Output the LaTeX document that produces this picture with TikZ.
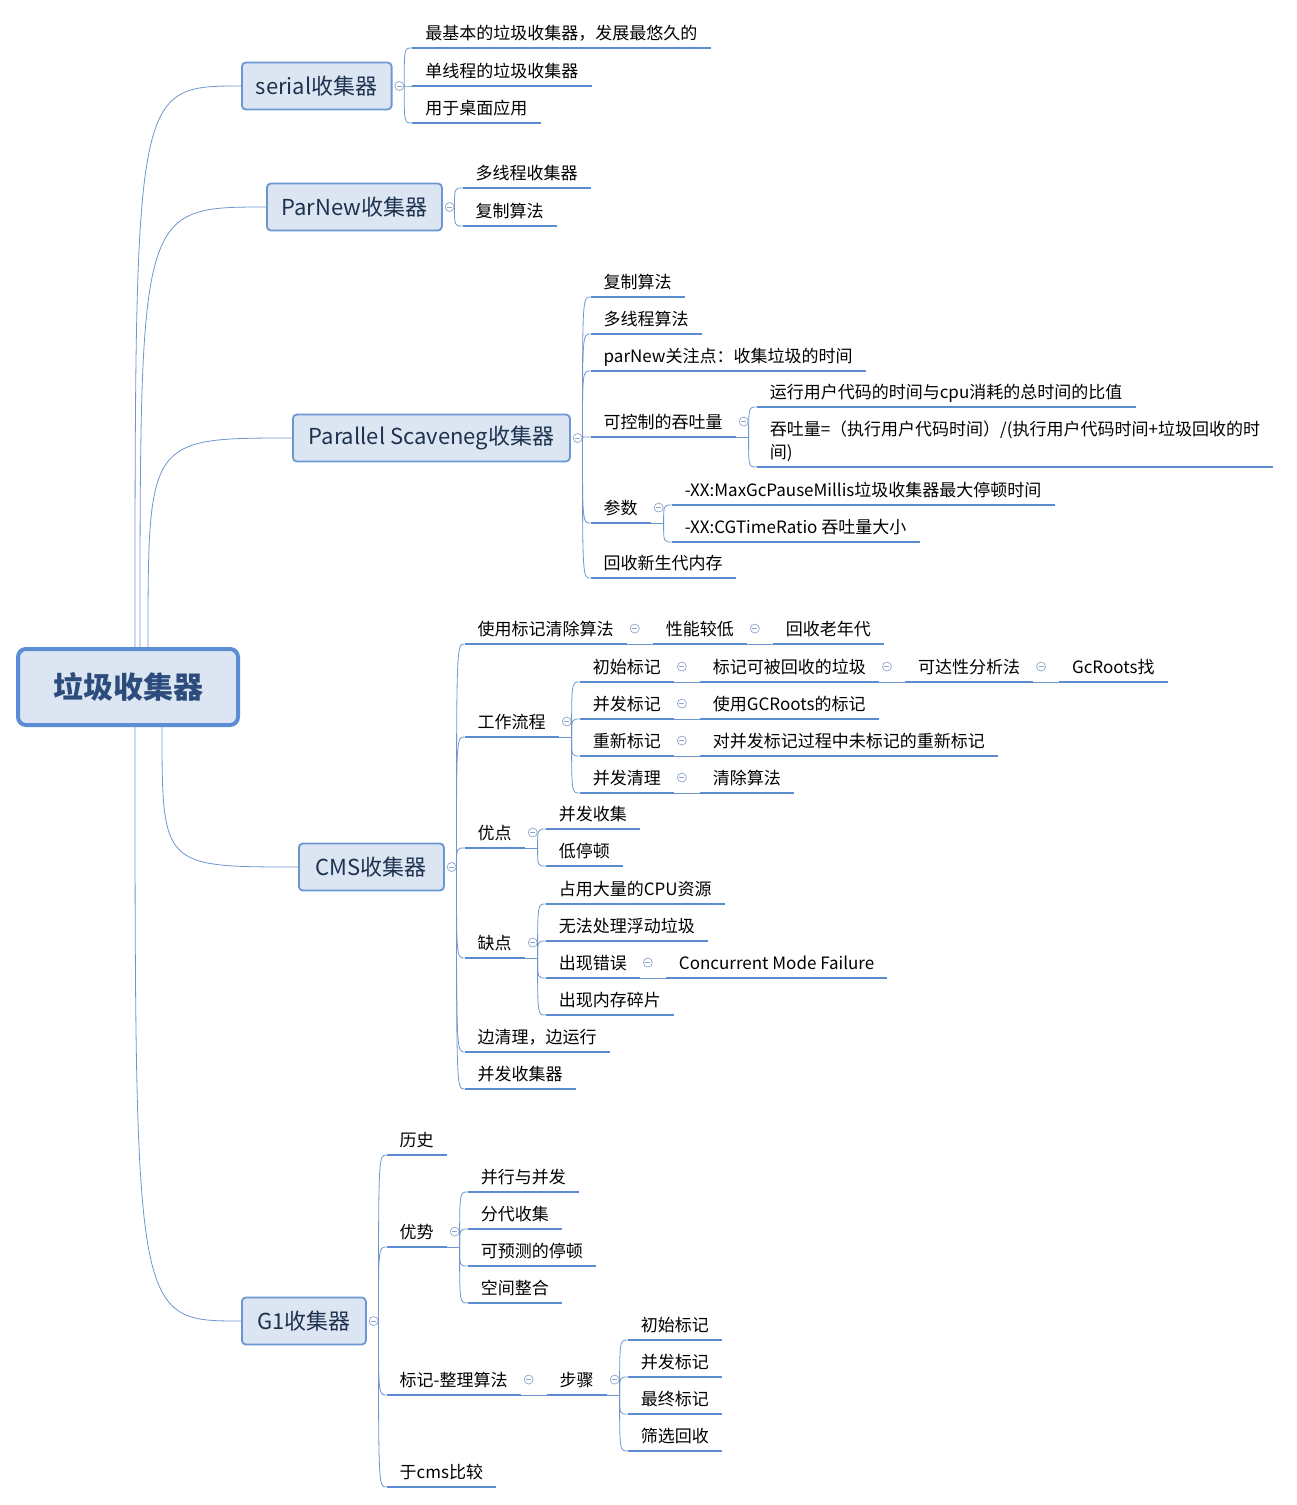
\documentclass[tikz,border=0pt]{standalone}
\usepackage{fontspec}
\setmainfont{Noto Sans CJK SC}
\usetikzlibrary{positioning}

\definecolor{linec}{HTML}{6F96CE}
\definecolor{ulinec}{HTML}{5B8BD0}
\definecolor{boxc}{HTML}{6A96D2}
\definecolor{rootc}{HTML}{5A8DD4}
\definecolor{boxf}{HTML}{DCE6F2}
\definecolor{boxt}{HTML}{1E3250}
\definecolor{roott}{HTML}{2C4C7C}
\definecolor{foldc}{HTML}{8DA5CB}

% fold mark after a topic, the point its branches leave from, and where subtopics start
\newcommand\foldat[2]{%
  \node[fold,right=3pt of #1] (f#1) {};
  \coordinate (b#1) at (f#1.east |- #1.south);
  \coordinate (x#1) at ([xshift=#2]b#1);
  \draw[link] (#1.south east) -- (b#1);}

\begin{document}
\begin{tikzpicture}[x=1pt,y=-1pt,
	every node/.style={font=\fontsize{17}{23}\selectfont},
	link/.style={draw=linec,line width=0.8pt},
	uline/.style={draw=ulinec,line width=2.8pt},
	leaf/.style={anchor=south west,inner xsep=13pt,inner ysep=0pt,text height=22pt,text depth=8.5pt,
		append after command={(\tikzlastnode.south west) edge[uline] (\tikzlastnode.south east)}},
	sub/.style={draw=boxc,fill=boxf,line width=1.8pt,rounded corners=4pt,text=boxt,
		font=\fontsize{22}{26}\selectfont,minimum height=47pt,inner xsep=14pt},
	root/.style={sub,draw=rootc,line width=4pt,rounded corners=8pt,minimum width=220pt,minimum height=76pt,
		text=roott,font=\bfseries\fontsize{30}{34}\selectfont},
	fold/.style={circle,draw=foldc,fill=white,line width=0.7pt,inner sep=0pt,minimum size=9pt,
		path picture={\draw[foldc,line width=0.7pt] ([xshift=2pt]path picture bounding box.west) -- ([xshift=-2pt]path picture bounding box.east);}}]
	\useasboundingbox (0,0) rectangle (1297,1505);

	\node[root] (root) at (128,687) {垃圾收集器};
	\node[sub,anchor=west,minimum width=149pt] (serial) at (241,86) {serial收集器};
	\node[sub,anchor=west,minimum width=175pt] (parnew) at (266,207) {ParNew收集器};
	\node[sub,anchor=west,minimum width=277pt] (parallel) at (292,438) {Parallel Scaveneg收集器};
	\node[sub,anchor=west,minimum width=145pt] (cms) at (298,867) {CMS收集器};
	\node[sub,anchor=west,minimum width=124pt] (gone) at (241,1321) {G1收集器};

	\foreach \s/\dx/\t in {north/7/serial,north/12/parnew,north/20/parallel,south/34/cms,south/7/gone}{
		\coordinate (r\t) at ([xshift=\dx pt]root.\s);
		\draw[link] (r\t) .. controls (r\t |- \t.west) .. (\t.west);
	}
	\foreach \p in {serial,parnew,parallel,cms,gone}{
		\node[fold,right=2pt of \p] (f\p) {};
		\coordinate (b\p) at (f\p.east);
		\coordinate (x\p) at ([xshift=8pt]b\p);
	}

	% serial / parnew
	\foreach \n/\y/\t in {sa/48/{最基本的垃圾收集器，发展最悠久的},sb/86/{单线程的垃圾收集器},sc/123/{用于桌面应用}}{
		\node[leaf] (\n) at (xserial |- 0,\y) {\t};
		\draw[link] (bserial) .. controls (bserial |- \n.south west) .. (\n.south west);
	}
	\foreach \n/\y/\t in {na/188/{多线程收集器},nb/226/{复制算法}}{
		\node[leaf] (\n) at (xparnew |- 0,\y) {\t};
		\draw[link] (bparnew) .. controls (bparnew |- \n.south west) .. (\n.south west);
	}

	% parallel scavenge
	\foreach \n/\y/\t in {pa/297/{复制算法},pb/334/{多线程算法},pc/371/{parNew关注点：收集垃圾的时间},ctrl/437/{可控制的吞吐量},param/523/{参数},pd/578/{回收新生代内存}}{
		\node[leaf] (\n) at (xparallel |- 0,\y) {\t};
		\draw[link] (bparallel) .. controls (bparallel |- \n.south west) .. (\n.south west);
	}
	\foldat{ctrl}{8pt}
	\node[leaf] (ctrla) at (xctrl |- 0,407) {运行用户代码的时间与cpu消耗的总时间的比值};
	\node[leaf] (ctrlb) at (xctrl |- 0,467) {\begin{tabular}[b]{@{}l@{}}吞吐量=（执行用户代码时间）/(执行用户代码时间+垃圾回收的时\\间)\end{tabular}};
	\foreach \n in {ctrla,ctrlb}
		\draw[link] (bctrl) .. controls (bctrl |- \n.south west) .. (\n.south west);
	\foldat{param}{8pt}
	\foreach \n/\y/\t in {parama/505/{-XX:MaxGcPauseMillis垃圾收集器最大停顿时间},paramb/542/{-XX:CGTimeRatio 吞吐量大小}}{
		\node[leaf] (\n) at (xparam |- 0,\y) {\t};
		\draw[link] (bparam) .. controls (bparam |- \n.south west) .. (\n.south west);
	}

	% cms
	\foreach \n/\y/\t in {mark/644/{使用标记清除算法},flow/737/{工作流程},pro/848/{优点},con/958/{缺点},cmsa/1052/{边清理，边运行},cmsb/1089/{并发收集器}}{
		\node[leaf] (\n) at (xcms |- 0,\y) {\t};
		\draw[link] (bcms) .. controls (bcms |- \n.south west) .. (\n.south west);
	}
	\foldat{flow}{8pt}
	\foreach \n/\y/\t in {init/682/{初始标记},conc/719/{并发标记},remark/756/{重新标记},clean/793/{并发清理}}{
		\node[leaf] (\n) at (xflow |- 0,\y) {\t};
		\draw[link] (bflow) .. controls (bflow |- \n.south west) .. (\n.south west);
	}
	\foldat{pro}{8pt}
	\foreach \n/\y/\t in {proa/829/{并发收集},prob/866/{低停顿}}{
		\node[leaf] (\n) at (xpro |- 0,\y) {\t};
		\draw[link] (bpro) .. controls (bpro |- \n.south west) .. (\n.south west);
	}
	\foldat{con}{8pt}
	\foreach \n/\y/\t in {cpu/904/{占用大量的CPU资源},floatg/941/{无法处理浮动垃圾},err/978/{出现错误},frag/1015/{出现内存碎片}}{
		\node[leaf] (\n) at (xcon |- 0,\y) {\t};
		\draw[link] (bcon) .. controls (bcon |- \n.south west) .. (\n.south west);
	}

	% g1
	\foreach \n/\y/\t in {hist/1155/{历史},adv/1247/{优势},gmark/1395/{标记-整理算法},cmp/1487/{于cms比较}}{
		\node[leaf] (\n) at (xgone |- 0,\y) {\t};
		\draw[link] (bgone) .. controls (bgone |- \n.south west) .. (\n.south west);
	}
	\foldat{adv}{8pt}
	\foreach \n/\y/\t in {adva/1192/{并行与并发},advb/1229/{分代收集},advc/1266/{可预测的停顿},advd/1303/{空间整合}}{
		\node[leaf] (\n) at (xadv |- 0,\y) {\t};
		\draw[link] (badv) .. controls (badv |- \n.south west) .. (\n.south west);
	}

	% topics that run on in one line
	\foreach \p/\n/\t in {mark/slow/{性能较低},slow/old/{回收老年代},
		init/inita/{标记可被回收的垃圾},inita/initb/{可达性分析法},initb/initc/{GcRoots找},
		conc/conca/{使用GCRoots的标记},remark/remarka/{对并发标记过程中未标记的重新标记},clean/cleana/{清除算法},
		err/cmf/{Concurrent Mode Failure},gmark/steps/{步骤}}{
		\foldat{\p}{13pt}
		\node[leaf] (\n) at (x\p) {\t};
		\draw[link] (b\p) -- (\n.south west);
	}
	\foldat{steps}{8pt}
	\foreach \n/\y/\t in {stepa/1340/{初始标记},stepb/1377/{并发标记},stepc/1414/{最终标记},stepd/1451/{筛选回收}}{
		\node[leaf] (\n) at (xsteps |- 0,\y) {\t};
		\draw[link] (bsteps) .. controls (bsteps |- \n.south west) .. (\n.south west);
	}
\end{tikzpicture}
\end{document}
